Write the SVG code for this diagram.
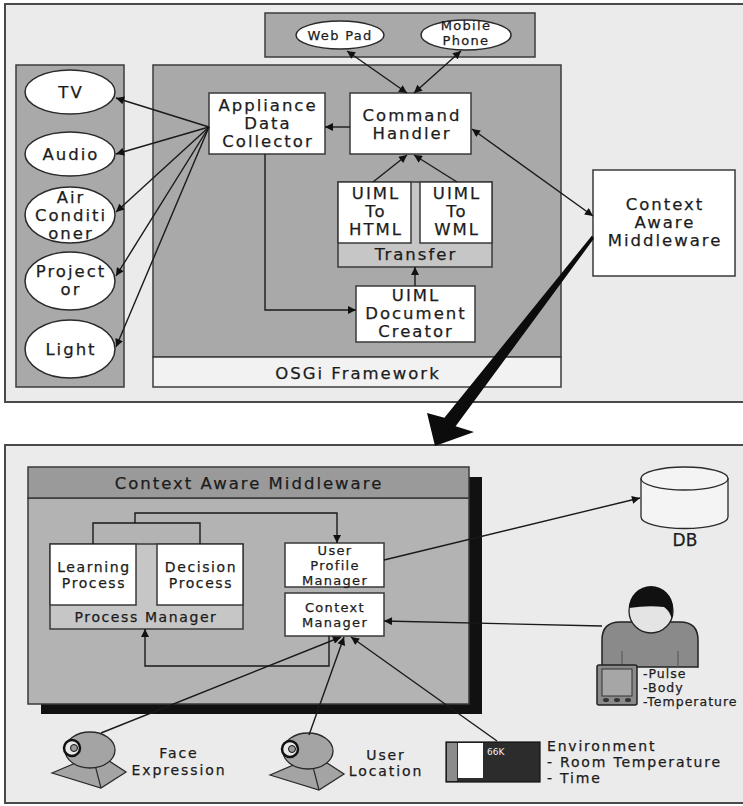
<svg xmlns="http://www.w3.org/2000/svg" width="743" height="806" viewBox="0 0 743 806">
  <style>
    text { font-family: "DejaVu Sans", "Liberation Sans", sans-serif; fill: #1c1c1c; stroke: #1c1c1c; stroke-width: 0.25; text-anchor: middle; }
    .big { font-size: 16.5px; letter-spacing: 2px; }
    .mid { font-size: 14px; letter-spacing: 1.6px; }
    .sm { font-size: 13px; letter-spacing: 1.3px; }
    .lt { text-anchor: start; }
    .panel { fill: #a9a9a9; stroke: #3c3c3c; stroke-width: 1.5; }
    .frame { fill: #ebebeb; stroke: #4a4a4a; stroke-width: 2; }
    .box { fill: #ffffff; stroke: #3a3a3a; stroke-width: 1.5; }
    .lgray { fill: #c6c6c6; stroke: #3a3a3a; stroke-width: 1.5; }
    .oval { fill: #ffffff; stroke: #2a2a2a; stroke-width: 1.5; }
    .wire { fill: none; stroke: #1a1a1a; stroke-width: 1.4; }
    .dev { fill: #a4a4a4; stroke: #2a2a2a; stroke-width: 1.3; }
  </style>
  <defs>
    <marker id="ah" viewBox="0 0 10 10" refX="10" refY="5" markerWidth="10" markerHeight="8" markerUnits="userSpaceOnUse" orient="auto-start-reverse">
      <path d="M0,0 L10,5 L0,10 z" fill="#111"/>
    </marker>
  </defs>

  <rect width="743" height="806" fill="#ffffff"/>

  <!-- upper frame: home server side -->
  <rect class="frame" x="5" y="4" width="745" height="398"/>
  <g id="devices-panel">
    <rect class="panel" x="265" y="13" width="270" height="44"/>
  </g>
  <g id="web-pad">
    <ellipse class="oval" cx="340" cy="35" rx="44" ry="14"/>
    <text x="340" y="40" class="sm">Web Pad</text>
  </g>
  <g id="mobile-phone">
    <ellipse class="oval" cx="466" cy="35" rx="45" ry="15"/>
    <text x="466" y="30" class="sm">Mobile</text>
    <text x="466" y="45" class="sm">Phone</text>
  </g>

  <g id="appliances-panel">
    <rect class="panel" x="16" y="65" width="108" height="322"/>
  </g>
  <g id="tv">
    <ellipse class="oval" cx="70" cy="92" rx="45" ry="22"/>
    <text x="71" y="98" class="big">TV</text>
  </g>
  <g id="audio">
    <ellipse class="oval" cx="70" cy="154" rx="45" ry="22"/>
    <text x="71" y="160" class="big">Audio</text>
  </g>
  <g id="air-conditioner">
    <ellipse class="oval" cx="70" cy="215" rx="45" ry="28"/>
    <text x="71" y="203" class="big">Air</text>
    <text x="71" y="221" class="big">Conditi</text>
    <text x="71" y="239" class="big">oner</text>
  </g>
  <g id="projector">
    <ellipse class="oval" cx="70" cy="281" rx="45" ry="29"/>
    <text x="71" y="277" class="big">Project</text>
    <text x="71" y="295" class="big">or</text>
  </g>
  <g id="light">
    <ellipse class="oval" cx="70" cy="349" rx="45" ry="29"/>
    <text x="71" y="355" class="big">Light</text>
  </g>

  <g id="osgi-framework">
    <rect class="panel" x="153" y="65" width="408" height="292"/>
    <rect x="153" y="357" width="408" height="30" fill="#f2f2f2" stroke="#3c3c3c" stroke-width="1.5"/>
    <text x="358" y="379" class="big">OSGi Framework</text>
  </g>
  <g id="appliance-data-collector">
    <rect class="box" x="209" y="93" width="116" height="61"/>
    <text x="268" y="111" class="big">Appliance</text>
    <text x="268" y="129" class="big">Data</text>
    <text x="268" y="147" class="big">Collector</text>
  </g>
  <g id="command-handler">
    <rect class="box" x="350" y="93" width="121" height="61"/>
    <text x="412" y="121" class="big">Command</text>
    <text x="412" y="139" class="big">Handler</text>
  </g>
  <g id="transfer">
    <rect class="lgray" x="338" y="182" width="154" height="85"/>
    <text x="416" y="260" class="big">Transfer</text>
  </g>
  <g id="uiml-to-html">
    <rect class="box" x="338" y="182" width="73" height="61"/>
    <text x="376" y="199" class="big">UIML</text>
    <text x="376" y="217" class="big">To</text>
    <text x="376" y="235" class="big">HTML</text>
  </g>
  <g id="uiml-to-wml">
    <rect class="box" x="420" y="182" width="72" height="61"/>
    <text x="457" y="199" class="big">UIML</text>
    <text x="457" y="217" class="big">To</text>
    <text x="457" y="235" class="big">WML</text>
  </g>
  <g id="uiml-document-creator">
    <rect class="box" x="356" y="286" width="119" height="56"/>
    <text x="416" y="301" class="big">UIML</text>
    <text x="416" y="319" class="big">Document</text>
    <text x="416" y="337" class="big">Creator</text>
  </g>
  <g id="context-aware-middleware-top">
    <rect class="box" x="593" y="170" width="142" height="106"/>
    <text x="665" y="210" class="big">Context</text>
    <text x="665" y="228" class="big">Aware</text>
    <text x="665" y="246" class="big">Middleware</text>
  </g>

  <!-- lower frame: context aware middleware detail -->
  <rect class="frame" x="5" y="445" width="745" height="358"/>
  <g id="context-aware-middleware">
    <rect x="41" y="477" width="441" height="237" fill="#111"/>
    <rect x="28" y="498" width="441" height="206" fill="#b3b3b3" stroke="#3a3a3a" stroke-width="1.5"/>
    <rect x="28" y="467" width="441" height="31" fill="#9a9a9a" stroke="#3a3a3a" stroke-width="1.5"/>
    <text x="249" y="489" class="big">Context Aware Middleware</text>
  </g>
  <g id="process-manager">
    <rect class="lgray" x="50" y="544" width="193" height="85"/>
    <text x="146" y="622" class="mid">Process Manager</text>
  </g>
  <g id="learning-process">
    <rect class="box" x="50" y="544" width="86" height="61"/>
    <text x="94" y="572" class="mid">Learning</text>
    <text x="94" y="588" class="mid">Process</text>
  </g>
  <g id="decision-process">
    <rect class="box" x="157" y="544" width="86" height="61"/>
    <text x="201" y="572" class="mid">Decision</text>
    <text x="201" y="588" class="mid">Process</text>
  </g>
  <g id="user-profile-manager">
    <rect class="box" x="285" y="543" width="99" height="44"/>
    <text x="335" y="555" class="sm">User</text>
    <text x="335" y="570" class="sm">Profile</text>
    <text x="335" y="585" class="sm">Manager</text>
  </g>
  <g id="context-manager">
    <rect class="box" x="285" y="593" width="99" height="43"/>
    <text x="335" y="612" class="sm">Context</text>
    <text x="335" y="627" class="sm">Manager</text>
  </g>

  <g id="db">
    <path d="M641,478 L641,517 A43.5,11.5 0 0 0 728,517 L728,478" fill="#f4f4f4" stroke="#2a2a2a" stroke-width="1.3"/>
    <ellipse cx="684.5" cy="478.5" rx="43.5" ry="11.5" fill="#f4f4f4" stroke="#2a2a2a" stroke-width="1.3"/>
    <text x="685" y="546" style="font-size:17px">DB</text>
  </g>

  <g id="user">
    <path d="M602,667 L602,640 Q602,622 620,622 L680,622 Q698,622 698,640 L698,667 Z" fill="#8a8a8a" stroke="#222" stroke-width="1.5"/>
    <line x1="622" y1="651" x2="622" y2="667" stroke="#555" stroke-width="1"/>
    <line x1="678" y1="651" x2="678" y2="667" stroke="#555" stroke-width="1"/>
    <circle cx="651" cy="611" r="22" fill="#e4e4e4" stroke="#222" stroke-width="1.3"/>
    <path d="M629,608 A22,22 0 0 1 673,608 L672,619 Q669,610 664,607 Q648,605 629,608 Z" fill="#111"/>
    <rect x="597" y="665" width="40" height="40" rx="2" fill="#8a8a8a" stroke="#222" stroke-width="1.5"/>
    <rect x="602" y="669" width="30" height="27" fill="#a6a6a6" stroke="#333" stroke-width="1"/>
    <ellipse cx="606" cy="700" rx="3" ry="2" fill="#333"/>
    <ellipse cx="617" cy="700" rx="3" ry="2" fill="#333"/>
    <ellipse cx="628" cy="700" rx="3" ry="2" fill="#333"/>
    <text x="643" y="678" class="lt" style="font-size:12.5px;letter-spacing:1px">-Pulse</text>
    <text x="643" y="692" class="lt" style="font-size:12.5px;letter-spacing:1px">-Body</text>
    <text x="643" y="706" class="lt" style="font-size:12.5px;letter-spacing:1px">-Temperature</text>
  </g>

  <g id="face-expression">
    <polygon class="dev" points="52,773 78,762 106,759 126,772 101,788"/>
    <line x1="94" y1="761" x2="101" y2="788" stroke="#2a2a2a" stroke-width="1.2"/>
    <ellipse class="dev" cx="90" cy="750" rx="25" ry="18"/>
    <circle cx="72" cy="748" r="8" fill="#e8e8e8" stroke="#111" stroke-width="2.5"/>
    <circle cx="74" cy="748" r="3.5" fill="#999" stroke="#111" stroke-width="1"/>
    <text x="179" y="758" class="mid" style="letter-spacing:1.9px">Face</text>
    <text x="179" y="775" class="mid" style="letter-spacing:1.9px">Expression</text>
  </g>

  <g id="user-location">
    <polygon class="dev" points="270,775 296,764 324,761 344,774 319,790"/>
    <line x1="312" y1="763" x2="319" y2="790" stroke="#2a2a2a" stroke-width="1.2"/>
    <ellipse class="dev" cx="308" cy="751" rx="25" ry="18"/>
    <circle cx="290" cy="749" r="8" fill="#e8e8e8" stroke="#111" stroke-width="2.5"/>
    <circle cx="292" cy="749" r="3.5" fill="#999" stroke="#111" stroke-width="1"/>
    <text x="386" y="760" class="mid" style="letter-spacing:1.9px">User</text>
    <text x="386" y="776" class="mid" style="letter-spacing:1.9px">Location</text>
  </g>

  <g id="environment">
    <rect x="446" y="742" width="94" height="40" fill="#2c2c2c" stroke="#111" stroke-width="1.2"/>
    <rect x="447" y="743" width="10" height="38" fill="#8c8c8c"/>
    <rect x="458" y="743" width="25" height="35" fill="#ffffff"/>
    <text x="487" y="755" class="lt" style="font-size:9px;fill:#eee;stroke:none">66K</text>
    <text x="547" y="751" class="lt mid" style="letter-spacing:1.8px">Environment</text>
    <text x="547" y="767" class="lt mid" style="letter-spacing:1.8px">- Room Temperature</text>
    <text x="547" y="783" class="lt mid" style="letter-spacing:1.8px">- Time</text>
  </g>

  <g id="connectors">
    <line class="wire" x1="347" y1="51" x2="407" y2="93" marker-start="url(#ah)" marker-end="url(#ah)"/>
    <line class="wire" x1="461" y1="51" x2="414" y2="93" marker-start="url(#ah)" marker-end="url(#ah)"/>
    <line class="wire" x1="350" y1="127" x2="325" y2="127" marker-end="url(#ah)"/>
    <line class="wire" x1="373" y1="182" x2="407" y2="155" marker-end="url(#ah)"/>
    <line class="wire" x1="457" y1="182" x2="414" y2="155" marker-end="url(#ah)"/>
    <line class="wire" x1="415" y1="286" x2="415" y2="267" marker-end="url(#ah)"/>
    <polyline class="wire" points="265,154 265,310 356,310" marker-end="url(#ah)"/>
    <line class="wire" x1="472" y1="129" x2="593" y2="216" marker-start="url(#ah)" marker-end="url(#ah)"/>
    <line class="wire" x1="209" y1="127" x2="116" y2="98" marker-end="url(#ah)"/>
    <line class="wire" x1="209" y1="127" x2="116" y2="154" marker-end="url(#ah)"/>
    <line class="wire" x1="209" y1="127" x2="116" y2="212" marker-end="url(#ah)"/>
    <line class="wire" x1="209" y1="127" x2="116" y2="276" marker-end="url(#ah)"/>
    <line class="wire" x1="209" y1="127" x2="116" y2="347" marker-end="url(#ah)"/>

    <polygon points="592,235.5 594,238.5 455.6,426.2 474,432 435,446 427,413 444.4,417.8" fill="#0c0c0c"/>

    <polyline class="wire" points="93,544 93,523 200,523 200,544"/>
    <polyline class="wire" points="135,523 135,513 337,513 337,543" marker-end="url(#ah)"/>
    <line class="wire" x1="384" y1="560" x2="640" y2="498" marker-end="url(#ah)"/>
    <polyline class="wire" points="329,636 329,666 145,666 145,629" marker-end="url(#ah)"/>
    <line class="wire" x1="602" y1="626" x2="384" y2="621" marker-end="url(#ah)"/>
    <line class="wire" x1="101" y1="733" x2="341" y2="637" marker-end="url(#ah)"/>
    <line class="wire" x1="309" y1="735" x2="344" y2="637" marker-end="url(#ah)"/>
    <line class="wire" x1="497" y1="741" x2="351" y2="637" marker-end="url(#ah)"/>
  </g>
</svg>
